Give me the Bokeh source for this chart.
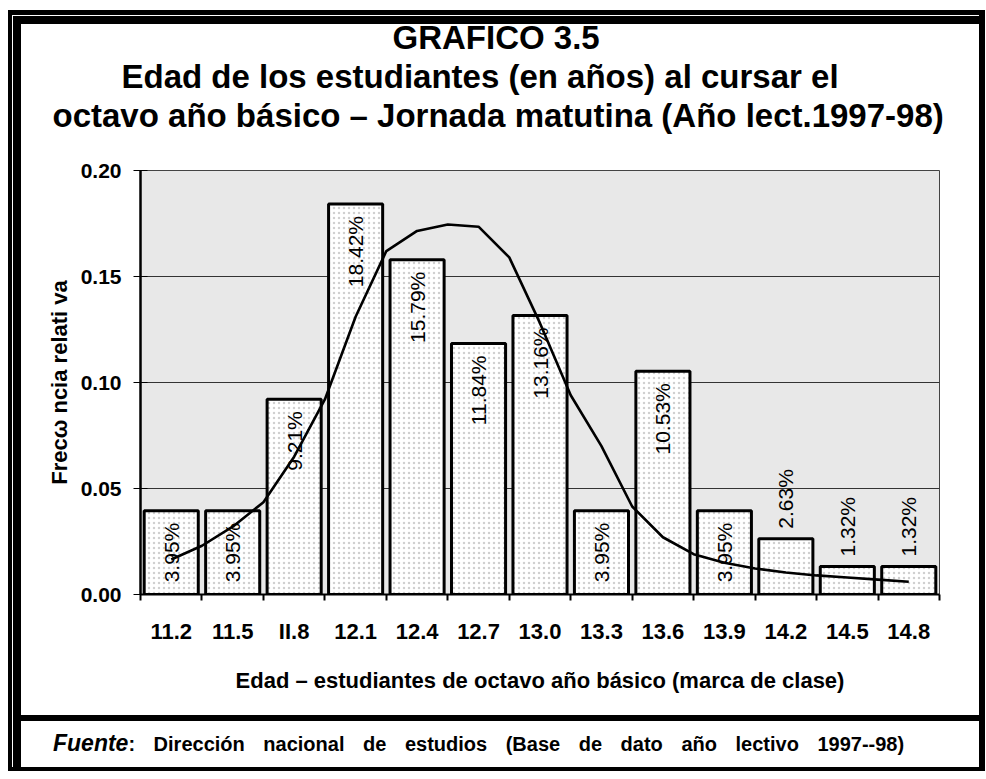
import math
from bokeh.plotting import figure
from bokeh.layouts import column
from bokeh.models import (ColumnDataSource, FixedTicker, Title, Div,
                          NumeralTickFormatter, Range1d)
from bokeh.core.properties import value
from bokeh.embed import file_html
from bokeh.resources import INLINE

# ---------------- data ----------------
categories = ["11.2", "11.5", "II.8", "12.1", "12.4", "12.7", "13.0",
              "13.3", "13.6", "13.9", "14.2", "14.5", "14.8"]
class_marks = [11.2, 11.5, 11.8, 12.1, 12.4, 12.7, 13.0, 13.3, 13.6, 13.9, 14.2, 14.5, 14.8]
percent = [3.95, 3.95, 9.21, 18.42, 15.79, 11.84, 13.16, 3.95, 10.53, 3.95, 2.63, 1.32, 1.32]

# fitted curve (age, relative frequency)
curve_age = [11.2, 11.35, 11.5, 11.65, 11.8, 11.95, 12.1, 12.25, 12.4, 12.55, 12.7,
             12.85, 13.0, 13.15, 13.3, 13.45, 13.6, 13.75, 13.9, 14.05, 14.2,
             14.35, 14.5, 14.65, 14.8]
curve_freq = [0.0165, 0.023, 0.032, 0.0435, 0.065, 0.092, 0.131, 0.162, 0.1715, 0.1745,
              0.1735, 0.159, 0.128, 0.094, 0.070, 0.0415, 0.027, 0.019, 0.015, 0.0123,
              0.0104, 0.009, 0.008, 0.007, 0.006]

y_ticks = [0.0, 0.05, 0.10, 0.15, 0.20]

title_lines = ["GRAFICO 3.5",
               "Edad de los estudiantes (en años) al cursar el",
               "octavo año básico – Jornada matutina (Año lect.1997-98)"]
x_title = "Edad – estudiantes de octavo año básico (marca de clase)"
y_title = "Frecω ncia relati va"
source_word = "Fuente"
source_text = ": Dirección nacional de estudios (Base de dato año lectivo 1997--98)"

FONT = "Liberation Sans"
FIG_W = 958
n = len(categories)
step = 0.3
first = class_marks[0]
pos = [float(i) for i in range(n)]

# ---------------- title block (own transparent figure) ----------------
t = figure(width=FIG_W, height=124, output_backend="svg", toolbar_location=None,
           x_axis_type=None, y_axis_type=None, x_range=Range1d(0, 1),
           y_range=Range1d(0, 1), min_border_left=0, min_border_right=0,
           min_border_top=0, min_border_bottom=0,
           styles={"margin-top": "-8px"})
t.border_fill_alpha = 0
t.background_fill_alpha = 0
t.outline_line_color = None
t.xgrid.visible = False
t.ygrid.visible = False
# outermost line is the plot's own title; others stack towards the frame
t.title.text = title_lines[0]
t.add_layout(Title(text=title_lines[2]), "above")
t.add_layout(Title(text=title_lines[1]), "above")
title_offsets = {title_lines[0]: 252, title_lines[1]: -19, title_lines[2]: -88}
for ttl in [t.title] + list(t.above):
    ttl.align = "left"
    ttl.offset = title_offsets[ttl.text]
    ttl.text_font = FONT
    ttl.text_font_style = "bold"
    ttl.text_font_size = "33px"
    ttl.text_color = "black"
    ttl.standoff = 0

# ---------------- chart ----------------
p = figure(width=FIG_W, height=575, output_backend="svg", toolbar_location=None,
           x_range=Range1d(-0.5, n - 0.5), y_range=Range1d(0, 0.20),
           min_border_left=119, min_border_right=40, min_border_top=30,
           min_border_bottom=121)
p.title.visible = False
p.background_fill_color = "#e8e8e8"
p.border_fill_color = "white"
p.outline_line_color = "#444444"
p.outline_line_width = 1

bar_src = ColumnDataSource(dict(x=pos, top=[v / 100 for v in percent]))
p.vbar(x="x", top="top", width=0.88, source=bar_src, fill_color="white",
       line_color="black", line_width=3, hatch_pattern="dot", hatch_color="#8a8a8a",
       hatch_scale=5, hatch_weight=1, hatch_alpha=0.4)

p.line([(a - first) / step for a in curve_age], curve_freq, line_color="black",
       line_width=2.6)

inside = [i for i, v in enumerate(percent) if v >= 3.9]
outside = [i for i, v in enumerate(percent) if v < 3.9]
in_src = ColumnDataSource(dict(x=[pos[i] for i in inside],
                               y=[percent[i] / 100 for i in inside],
                               t=[f"{percent[i]:.2f}%" for i in inside]))
out_src = ColumnDataSource(dict(x=[pos[i] for i in outside],
                                y=[percent[i] / 100 for i in outside],
                                t=[f"{percent[i]:.2f}%" for i in outside]))
p.text(x="x", y="y", text="t", source=in_src, angle=math.pi / 2, text_align="right",
       text_baseline="middle", y_offset=12, text_font=value(FONT),
       text_font_size="21px", text_color="black")
p.text(x="x", y="y", text="t", source=out_src, angle=math.pi / 2, text_align="left",
       text_baseline="middle", y_offset=-10, text_font=value(FONT),
       text_font_size="21px", text_color="black")

xa = p.xaxis[0]
xa.ticker = FixedTicker(ticks=pos, minor_ticks=[x - 0.5 for x in pos] + [pos[-1] + 0.5])
xa.major_label_overrides = {i: c for i, c in enumerate(categories)}
xa.major_tick_out = 0
xa.major_tick_in = 0
xa.minor_tick_out = 6
xa.minor_tick_in = 0
xa.minor_tick_line_color = "black"
xa.minor_tick_line_width = 2
xa.axis_line_color = "black"
xa.axis_line_width = 2
xa.major_label_standoff = 18
xa.major_label_text_font = FONT
xa.major_label_text_font_style = "bold"
xa.major_label_text_font_size = "22px"
xa.major_label_text_color = "black"
xa.axis_label = x_title
xa.axis_label_text_font = FONT
xa.axis_label_text_font_style = "bold"
xa.axis_label_text_font_size = "22px"
xa.axis_label_text_color = "black"
xa.axis_label_standoff = 21

ya = p.yaxis[0]
ya.ticker = FixedTicker(ticks=y_ticks, minor_ticks=[])
ya.formatter = NumeralTickFormatter(format="0.00")
ya.major_tick_out = 7
ya.major_tick_in = 7
ya.major_tick_line_color = "black"
ya.major_tick_line_width = 1
ya.axis_line_color = "black"
ya.axis_line_width = 2.5
ya.major_label_standoff = 12
ya.major_label_text_font = FONT
ya.major_label_text_font_style = "bold"
ya.major_label_text_font_size = "21px"
ya.major_label_text_color = "black"
ya.axis_label = y_title
ya.axis_label_text_font = FONT
ya.axis_label_text_font_style = "bold"
ya.axis_label_text_font_size = "22px"
ya.axis_label_text_color = "black"
ya.axis_label_standoff = 6

p.xgrid.visible = False
p.ygrid.ticker = FixedTicker(ticks=y_ticks[1:-1])
p.ygrid.grid_line_color = "#333333"
p.ygrid.grid_line_width = 1

# ---------------- source line ----------------
source_html = (
    f'<div style="font-family:{FONT};line-height:44px;height:52px;'
    f'padding-left:32px;white-space:nowrap;color:black;word-spacing:13px;">'
    f'<span style="font-weight:bold;font-style:italic;font-size:23px;">{source_word}</span>'
    f'<span style="font-weight:bold;font-size:20px;">{source_text}</span></div>'
)
src_div = Div(text=source_html, width=FIG_W, height=52,
              styles={"border-top": "6px solid black", "margin": "0"})

# ---------------- page frame (CSS borders) ----------------
inner = column(t, p, src_div, spacing=0,
               styles={"border-left": "8px solid black", "border-top": "8px solid black"})
outer = column(inner, spacing=0,
               styles={"border-left": "4px solid black", "border-top": "5px solid black",
                       "border-right": "6px solid black", "border-bottom": "4px solid black",
                       "padding-left": "1px", "padding-top": "1px",
                       "margin-top": "10px", "margin-left": "8px",
                       "background-color": "white"})

open("out.html", "w").write(file_html(outer, INLINE))
